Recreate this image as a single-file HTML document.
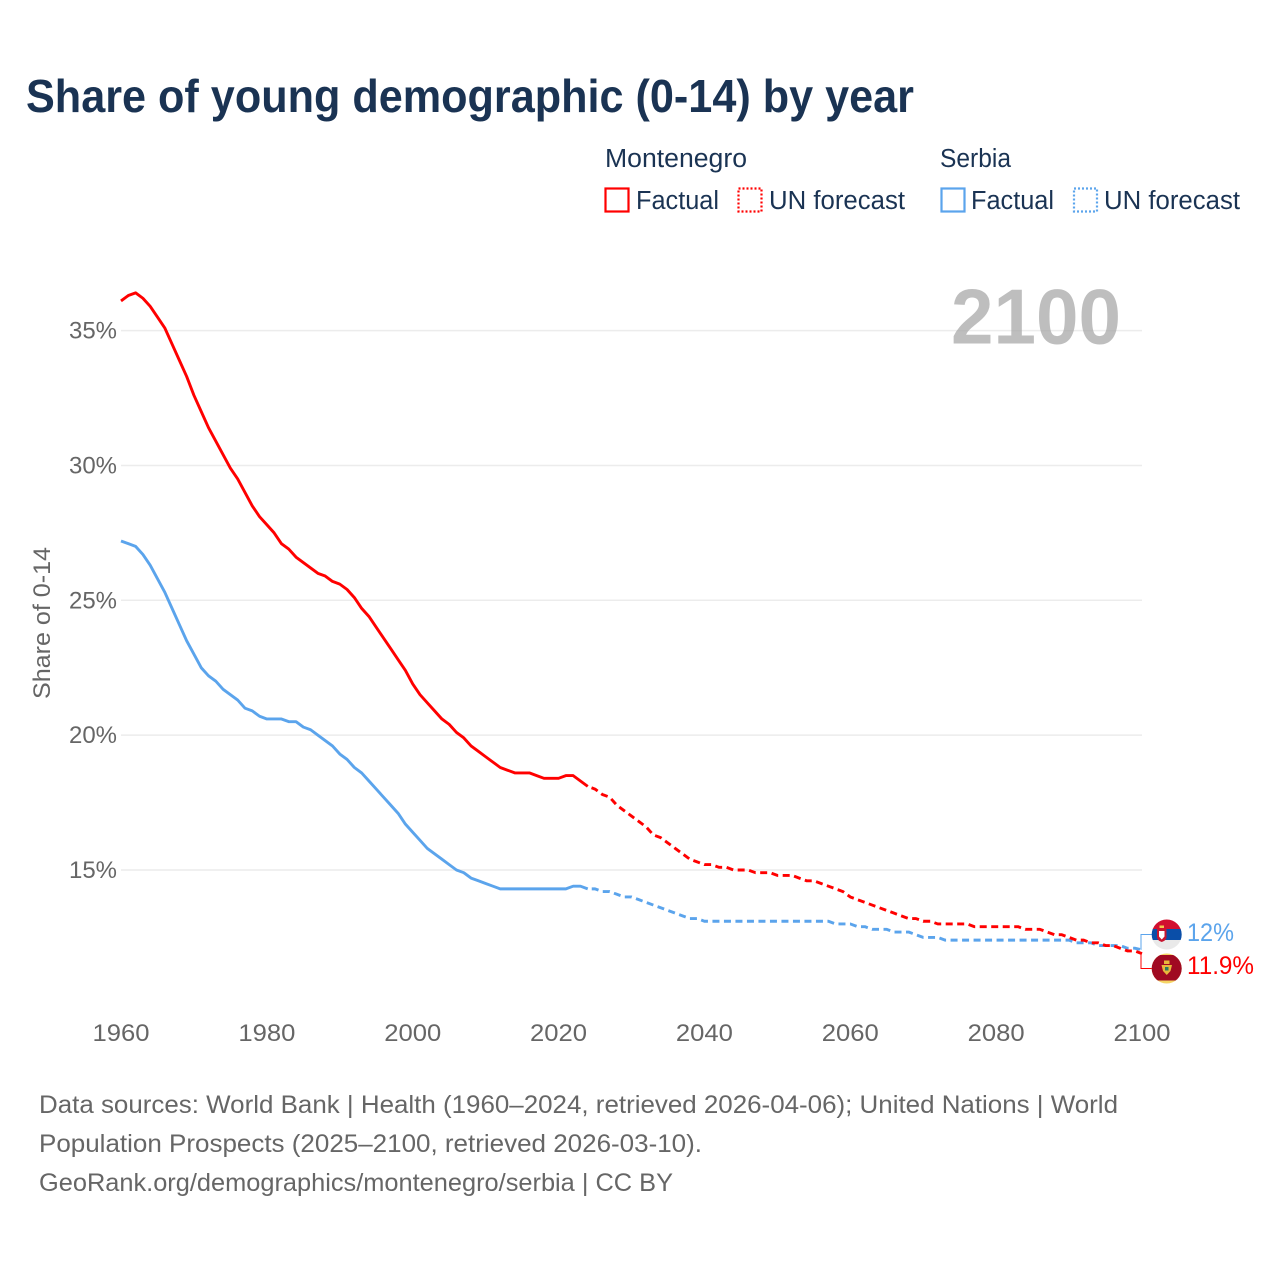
<!DOCTYPE html>
<html lang="en">
<head>
<meta charset="utf-8">
<title>Share of young demographic (0-14) by year</title>
<style>
  html, body { margin: 0; padding: 0; background: #fff; }
  svg { display: block; font-family: "Liberation Sans", sans-serif; }
</style>
</head>
<body>
<svg id="chart" width="1280" height="1280" viewBox="0 0 1280 1280" xmlns="http://www.w3.org/2000/svg">
  <rect x="0" y="0" width="1280" height="1280" fill="#ffffff"/>
  <text x="26" y="112" font-size="46" font-weight="700" fill="#1a3353" textLength="888" lengthAdjust="spacingAndGlyphs">Share of young demographic (0-14) by year</text>

  <g font-size="25.5" fill="#1a3353">
    <text x="605" y="167" textLength="142" lengthAdjust="spacingAndGlyphs">Montenegro</text>
    <rect x="605.500" y="188.500" width="23" height="23" fill="none" stroke="#ff0000" stroke-width="2.200"/>
    <text x="636" y="209" textLength="83" lengthAdjust="spacingAndGlyphs">Factual</text>
    <rect x="738.500" y="188.500" width="23" height="23" fill="none" stroke="#ff0000" stroke-width="2.200" stroke-dasharray="2 2"/>
    <text x="769" y="209" textLength="136" lengthAdjust="spacingAndGlyphs">UN forecast</text>
    <text x="940" y="167" textLength="71" lengthAdjust="spacingAndGlyphs">Serbia</text>
    <rect x="941.500" y="188.500" width="23" height="23" fill="none" stroke="#5ba4ec" stroke-width="2.200"/>
    <text x="971" y="209" textLength="83" lengthAdjust="spacingAndGlyphs">Factual</text>
    <rect x="1074" y="188.500" width="23" height="23" fill="none" stroke="#5ba4ec" stroke-width="2.200" stroke-dasharray="2 2"/>
    <text x="1104" y="209" textLength="136" lengthAdjust="spacingAndGlyphs">UN forecast</text>
  </g>

  <g id="grid"></g>
  <text id="yearLabel" x="951" y="343.500" font-size="78" font-weight="700" fill="#a8a8a8" fill-opacity="0.75" textLength="170" lengthAdjust="spacingAndGlyphs"></text>
  <g id="yTicks" font-size="24" fill="#666666"></g>
  <g id="xTicks" font-size="24" fill="#666666"></g>
  <text transform="translate(50,699) rotate(-90)" x="0" y="0" font-size="24" fill="#666666" textLength="152" lengthAdjust="spacingAndGlyphs">Share of 0-14</text>
  <g id="series"></g>

  <g id="connectors" fill="none" stroke-width="1"></g>

  <g>
    <clipPath id="clipRs"><circle cx="1166.700" cy="934.500" r="15"/></clipPath>
    <g clip-path="url(#clipRs)">
      <rect x="1150" y="918" width="34" height="11.500" fill="#d2102f"/>
      <rect x="1150" y="929" width="34" height="11" fill="#0a4ea8"/>
      <rect x="1150" y="940" width="34" height="12" fill="#e9e9e9"/>
      <path d="M1157 929h9.500v8q0 3.500-4.750 5q-4.750-1.500-4.750-5z" fill="#c8152f"/>
      <path d="M1159 931h5.500v5.500l-2.750 3l-2.750-3z" fill="#ffffff"/>
      <rect x="1159.500" y="925.500" width="4.500" height="2.500" fill="#f2c94c"/>
    </g>
  </g>
  <g>
    <clipPath id="clipMe"><circle cx="1166.700" cy="968.500" r="15"/></clipPath>
    <g clip-path="url(#clipMe)">
      <rect x="1150" y="952" width="34" height="34" fill="#f5d565"/>
      <rect x="1150" y="955" width="34" height="25.500" fill="#a00a22"/>
      <path d="M1161.500 965h10.500l-1.500 6l-3.750 4l-3.750-4z" fill="#e8b93c"/>
      <rect x="1164" y="960.500" width="5.500" height="3.500" fill="#e8b93c"/>
      <rect x="1165" y="967" width="3.500" height="3.500" fill="#2d7a60"/>
    </g>
  </g>

  <text id="labelSerbia" x="1187" y="941" font-size="25" fill="#5ba4ec" textLength="47" lengthAdjust="spacingAndGlyphs"></text>
  <text id="labelMontenegro" x="1187" y="974" font-size="25" fill="#ff0000" textLength="67" lengthAdjust="spacingAndGlyphs"></text>

  <g font-size="25" fill="#666666">
    <text x="39" y="1113" textLength="1079" lengthAdjust="spacingAndGlyphs">Data sources: World Bank | Health (1960–2024, retrieved 2026-04-06); United Nations | World</text>
    <text x="39" y="1152" textLength="663" lengthAdjust="spacingAndGlyphs">Population Prospects (2025–2100, retrieved 2026-03-10).</text>
    <text x="39" y="1191" textLength="634" lengthAdjust="spacingAndGlyphs">GeoRank.org/demographics/montenegro/serbia | CC BY</text>
  </g>
</svg>
<script>
const startYear = 1960;
const lastFactualYear = 2024;
const currentYear = 2100;
const xTickLabels = [1960, 1980, 2000, 2020, 2040, 2060, 2080, 2100];
const yTickLabels = [15, 20, 25, 30, 35];
const montenegroValues = [
  36.1,36.3,36.4,36.2,35.9,35.5,35.1,34.5,33.9,33.3,
  32.6,32.0,31.4,30.9,30.4,29.9,29.5,29.0,28.5,28.1,
  27.8,27.5,27.1,26.9,26.6,26.4,26.2,26.0,25.9,25.7,
  25.6,25.4,25.1,24.7,24.4,24.0,23.6,23.2,22.8,22.4,
  21.9,21.5,21.2,20.9,20.6,20.4,20.1,19.9,19.6,19.4,
  19.2,19.0,18.8,18.7,18.6,18.6,18.6,18.5,18.4,18.4,
  18.4,18.5,18.5,18.3,18.1,18.0,17.8,17.7,17.4,17.2,
  17.0,16.8,16.6,16.3,16.2,16.0,15.8,15.6,15.4,15.3,
  15.2,15.2,15.1,15.1,15.0,15.0,15.0,14.9,14.9,14.9,
  14.8,14.8,14.8,14.7,14.6,14.6,14.5,14.4,14.3,14.2,
  14.0,13.9,13.8,13.7,13.6,13.5,13.4,13.3,13.2,13.2,
  13.1,13.1,13.0,13.0,13.0,13.0,13.0,12.9,12.9,12.9,
  12.9,12.9,12.9,12.9,12.8,12.8,12.8,12.7,12.6,12.6,
  12.5,12.4,12.4,12.3,12.3,12.2,12.2,12.1,12.0,12.0,
  11.9
];
const serbiaValues = [
  27.2,27.1,27.0,26.7,26.3,25.8,25.3,24.7,24.1,23.5,
  23.0,22.5,22.2,22.0,21.7,21.5,21.3,21.0,20.9,20.7,
  20.6,20.6,20.6,20.5,20.5,20.3,20.2,20.0,19.8,19.6,
  19.3,19.1,18.8,18.6,18.3,18.0,17.7,17.4,17.1,16.7,
  16.4,16.1,15.8,15.6,15.4,15.2,15.0,14.9,14.7,14.6,
  14.5,14.4,14.3,14.3,14.3,14.3,14.3,14.3,14.3,14.3,
  14.3,14.3,14.4,14.4,14.3,14.3,14.2,14.2,14.1,14.0,
  14.0,13.9,13.8,13.7,13.6,13.5,13.4,13.3,13.2,13.2,
  13.1,13.1,13.1,13.1,13.1,13.1,13.1,13.1,13.1,13.1,
  13.1,13.1,13.1,13.1,13.1,13.1,13.1,13.1,13.0,13.0,
  13.0,12.9,12.9,12.8,12.8,12.8,12.7,12.7,12.7,12.6,
  12.5,12.5,12.5,12.4,12.4,12.4,12.4,12.4,12.4,12.4,
  12.4,12.4,12.4,12.4,12.4,12.4,12.4,12.4,12.4,12.4,
  12.4,12.3,12.3,12.3,12.2,12.2,12.2,12.2,12.1,12.1,
  12.04
];

const NS = 'http://www.w3.org/2000/svg';
function xScale(year) { return 121 + (year - 1960) * (1021 / 140); }
function yScale(pct) { return 870 - (pct - 15) * 26.97; }

function makeLine(values, from, to, color, dashed) {
  const parts = [];
  for (let y = from; y <= to; y++) {
    const v = values[y - startYear];
    parts.push((parts.length ? 'L' : 'M') + xScale(y).toFixed(2) + ' ' + yScale(v).toFixed(2));
  }
  const p = document.createElementNS(NS, 'path');
  p.setAttribute('d', parts.join(''));
  p.setAttribute('fill', 'none');
  p.setAttribute('stroke', color);
  p.setAttribute('stroke-width', '2.9');
  p.setAttribute('stroke-linejoin', 'round');
  if (dashed) {
    p.setAttribute('stroke-dasharray', '7 4.5');
    p.setAttribute('stroke-dashoffset', '7.5');
  }
  return p;
}

const gridGroup = document.getElementById('grid');
const yTickGroup = document.getElementById('yTicks');
yTickLabels.forEach(function (t) {
  const line = document.createElementNS(NS, 'line');
  
  
  line.setAttribute('x1', xScale(1960));
  line.setAttribute('x2', xScale(2100));
  line.setAttribute('y1', yScale(t));
  line.setAttribute('y2', yScale(t));
  line.setAttribute('stroke', '#ececec');
  line.setAttribute('stroke-width', '1.5');
  gridGroup.appendChild(line);

  const label = document.createElementNS(NS, 'text');
  
  
  label.setAttribute('x', 69);
  label.setAttribute('y', yScale(t) + 8);
  label.setAttribute('textLength', 48);
  label.setAttribute('lengthAdjust', 'spacingAndGlyphs');
  label.textContent = t + '%';
  yTickGroup.appendChild(label);
});

const xTickGroup = document.getElementById('xTicks');
xTickLabels.forEach(function (t) {
  const label = document.createElementNS(NS, 'text');
  
  
  label.setAttribute('x', xScale(t) - 28.5);
  label.setAttribute('y', 1041);
  label.setAttribute('textLength', 57);
  label.setAttribute('lengthAdjust', 'spacingAndGlyphs');
  label.textContent = t;
  xTickGroup.appendChild(label);
});

const seriesGroup = document.getElementById('series');
const endYear = startYear + montenegroValues.length - 1;

const serbiaFactual = makeLine(serbiaValues, startYear, lastFactualYear, '#5ba4ec', false);


seriesGroup.appendChild(serbiaFactual);

const serbiaForecast = makeLine(serbiaValues, lastFactualYear, endYear, '#5ba4ec', true);


seriesGroup.appendChild(serbiaForecast);

const montenegroFactual = makeLine(montenegroValues, startYear, lastFactualYear, '#ff0000', false);


seriesGroup.appendChild(montenegroFactual);

const montenegroForecast = makeLine(montenegroValues, lastFactualYear, endYear, '#ff0000', true);


seriesGroup.appendChild(montenegroForecast);

const connectorGroup = document.getElementById('connectors');
const lastRs = serbiaValues[serbiaValues.length - 1];
const lastMe = montenegroValues[montenegroValues.length - 1];

const rsConnector = document.createElementNS(NS, 'path');


rsConnector.setAttribute('d', 'M' + (xScale(endYear) - 1) + ' ' + yScale(lastRs) + 'V934.5H1152');
rsConnector.setAttribute('stroke', '#5ba4ec');
connectorGroup.appendChild(rsConnector);

const meConnector = document.createElementNS(NS, 'path');


meConnector.setAttribute('d', 'M' + (xScale(endYear) - 1) + ' ' + yScale(lastMe) + 'V968.5H1152');
meConnector.setAttribute('stroke', '#ff0000');
connectorGroup.appendChild(meConnector);

document.getElementById('labelSerbia').textContent = (+lastRs.toFixed(0)) + '%';
document.getElementById('labelMontenegro').textContent = (+lastMe.toFixed(1)) + '%';
document.getElementById('yearLabel').textContent = currentYear;
</script>
</body>
</html>
